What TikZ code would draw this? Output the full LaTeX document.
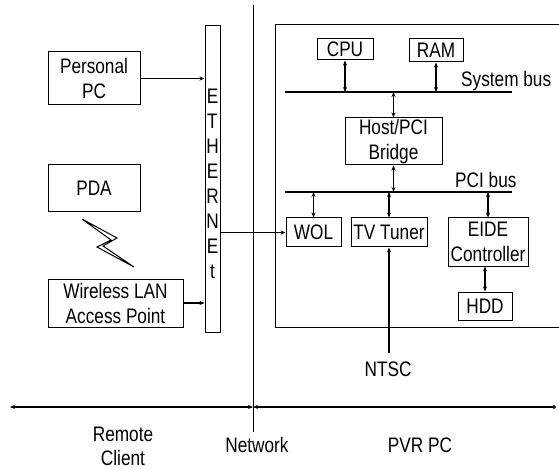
\documentclass[tikz,border=0pt]{standalone}
\usepackage{fontspec}
\setmainfont{Liberation Sans}[FakeStretch=0.82]
\usetikzlibrary{arrows.meta}

\begin{document}
\begin{tikzpicture}[x=1pt,y=-1pt,
    every node/.style={font=\fontsize{21}{25}\selectfont, inner sep=0pt},
    box/.style={draw, line width=1pt, align=center},
    link/.style={line width=1.1pt, -{Stealth[length=5pt,width=4pt]}},
    biarrow/.style={line width=1.1pt, {Stealth[length=5pt,width=4pt]}-{Stealth[length=5pt,width=4pt]}},
    bus/.style={line width=1.1pt}
]
\useasboundingbox (0,0) rectangle (559,470);

% Remote client side
\node[box, minimum width=92pt, minimum height=53pt] (pc) at (94,78.5) {Personal\\PC};
\node[box, minimum width=92pt, minimum height=47pt] (pda) at (94,188.5) {PDA};
\node[box, minimum width=135pt, minimum height=48pt] (wlan) at (115.5,303) {Wireless LAN\\Access Point};

% Wireless link
\draw[line width=1pt] (82,219) -- (117,238) -- (103,246) -- (134,267)
    -- (97,247) -- (111,240) -- cycle;

% Ethernet
\node[box, minimum width=15pt, minimum height=306pt] (eth) at (212.5,179) {};
\node[align=center] (ethtxt) at (212.5,184) {E\\T\\H\\E\\R\\N\\E\\t};

\draw[link] (pc.east) -- (pc.east -| eth.west);
\draw[link] (wlan.east) -- (wlan.east -| eth.west);

% Network divider
\coordinate (netT) at (253,5);
\coordinate (netB) at (253,432);
\draw[line width=1pt] (netT) -- (netB);

% PVR PC frame
\draw[line width=1pt] (559,25) -- (275,25) -- (275,327) -- (559,327);

% System bus
\node[box, minimum width=56pt, minimum height=21pt] (cpu) at (345,49.5) {CPU};
\node[box, minimum width=54pt, minimum height=23pt] (ram) at (436,50.5) {RAM};
\coordinate (sysL) at (285,92);
\coordinate (sysR) at (512,92);
\draw[bus] (sysL) -- (sysR);
\node[anchor=base west] (syslbl) at (461,87) {System bus};
\draw[biarrow] (cpu.south) -- (cpu.south |- sysL);
\draw[biarrow] (ram.south) -- (ram.south |- sysL);

% Bridge
\node[box, minimum width=97pt, minimum height=47pt] (bridge) at (393.5,141.5) {Host/PCI\\Bridge};
\draw[biarrow] (bridge.north) -- (bridge.north |- sysL);

% PCI bus
\coordinate (pciL) at (285,192);
\coordinate (pciR) at (512,192);
\draw[bus] (pciL) -- (pciR);
\node[anchor=base west] (pcilbl) at (455,188) {PCI bus};
\draw[biarrow] (bridge.south) -- (bridge.south |- pciL);

% Devices
\node[box, minimum width=55pt, minimum height=29pt] (wol) at (313.5,232.5) {WOL};
\node[box, minimum width=76pt, minimum height=29pt] (tv) at (389,232.5) {TV Tuner};
\node[box, minimum width=80pt, minimum height=48pt] (eide) at (488,242) {EIDE\\Controller};
\node[box, minimum width=54pt, minimum height=28pt] (hdd) at (485,306) {HDD};
\draw[biarrow] (wol.north) -- (wol.north |- pciL);
\draw[biarrow] (tv.north) -- (tv.north |- pciL);
\draw[biarrow] (eide.north) -- (eide.north |- pciL);
\draw[biarrow] (eide.south -| hdd.north) -- (hdd.north);

\draw[link] (wol.west -| eth.east) -- (wol.west);

% Broadcast input
\coordinate (ntscend) at (389,353);
\draw[link] (ntscend) -- (tv.south);
\node (ntsc) at (388,369) {NTSC};

% Bottom axis
\coordinate (axL) at (10,407);
\coordinate (axM) at (253,407);
\coordinate (axR) at (556,407);
\draw[biarrow] (axL) -- (axM);
\draw[line width=1.1pt, {Stealth[length=5pt,width=4pt]}-{Circle[open,length=4pt]}] (axM) -- (axR);

\node[align=center, anchor=north, font=\fontsize{21}{24}\selectfont] (remote) at (123,427) {Remote\\Client};
\node (network) at (257,445) {Network};
\node (pvr) at (420,445) {PVR PC};

\end{tikzpicture}
\end{document}
